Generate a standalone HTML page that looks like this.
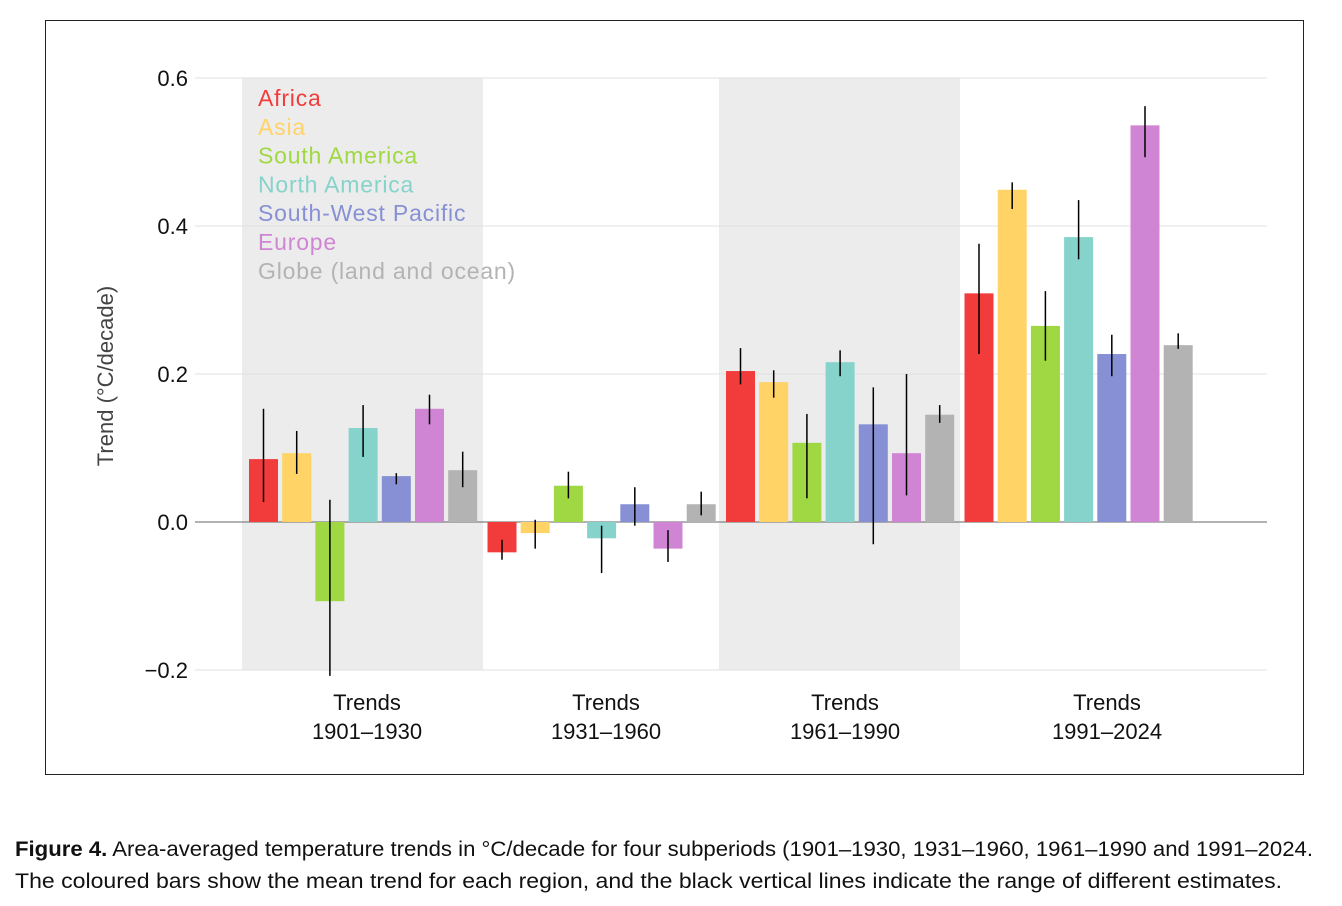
<!DOCTYPE html>
<html><head><meta charset="utf-8"><style>
body{margin:0;background:#fff;}
svg{display:block;font-family:"Liberation Sans",sans-serif;}
</style></head><body>
<svg id="chart" width="1342" height="906">
<rect x="45.5" y="20.5" width="1258" height="754" fill="none" stroke="#222" stroke-width="1"/>
<g id="bands"></g>
<g id="grid"></g>
<g id="bars"></g>
<g id="legend"></g>
<text x="113" y="376" transform="rotate(-90 113 376)" text-anchor="middle" font-size="22" fill="#444">Trend (°C/decade)</text>
<text x="15" y="856" font-size="21" fill="#111" font-family="'Liberation Sans Narrow','Liberation Sans',sans-serif" textLength="1298" lengthAdjust="spacingAndGlyphs"><tspan font-weight="bold">Figure 4.</tspan> Area-averaged temperature trends in °C/decade for four subperiods (1901–1930, 1931–1960, 1961–1990 and 1991–2024.</text>
<text x="15" y="888" font-size="21" fill="#111" font-family="'Liberation Sans Narrow','Liberation Sans',sans-serif" textLength="1267" lengthAdjust="spacingAndGlyphs">The coloured bars show the mean trend for each region, and the black vertical lines indicate the range of different estimates.</text>
</svg>
<script>
const periods=["1901–1930","1931–1960","1961–1990","1991–2024"];
const regions=["Africa","Asia","South America","North America","South-West Pacific","Europe","Globe (land and ocean)"];
const colors=["#f23c3c","#ffd366","#a0d843","#86d3cc","#8790d4","#d085d4","#b3b3b3"];
const yTicks=[-0.2,0,0.2,0.4,0.6];
const yTickLabels=["−0.2","0.0","0.2","0.4","0.6"];
const means=[
[0.085,0.093,-0.107,0.127,0.062,0.153,0.070],
[-0.041,-0.015,0.049,-0.022,0.024,-0.036,0.024],
[0.204,0.189,0.107,0.216,0.132,0.093,0.145],
[0.309,0.449,0.265,0.385,0.227,0.536,0.239]];
const highs=[
[0.153,0.123,0.030,0.158,0.066,0.172,0.095],
[-0.024,0.003,0.068,-0.005,0.047,-0.011,0.041],
[0.235,0.205,0.146,0.232,0.182,0.200,0.158],
[0.376,0.459,0.312,0.435,0.253,0.562,0.255]];
const lows=[
[0.027,0.065,-0.208,0.088,0.051,0.132,0.047],
[-0.051,-0.036,0.032,-0.069,-0.005,-0.054,0.009],
[0.186,0.168,0.032,0.197,-0.030,0.036,0.134],
[0.227,0.423,0.218,0.355,0.197,0.493,0.234]];
const NS="http://www.w3.org/2000/svg";
const y=v=>522-(v*740);
const groupX=i=>242+i*238.5;
const barX=(g,r)=>groupX(g)+7+r*33.2;
const labelX=i=>i===3?1107:367+i*239;
function mk(tag,attrs,parent,txt){const e=document.createElementNS(NS,tag);for(const k in attrs)e.setAttribute(k,attrs[k]);if(txt!==undefined)e.textContent=txt;parent.appendChild(e);return e;}
const bands=document.getElementById('bands'),grid=document.getElementById('grid'),bars=document.getElementById('bars'),legend=document.getElementById('legend');
periods.forEach((p,i)=>{
 if(i%2===0){const b=mk('rect',{x:groupX(i),y:y(0.6),width:241,height:y(-0.2)-y(0.6),fill:'#ececec'},bands);
 
 }
 const t=mk('text',{x:labelX(i),y:710,'text-anchor':'middle','font-size':22,fill:'#111'},grid);
 
 
 mk('tspan',{x:labelX(i),dy:0},t,'Trends');
 mk('tspan',{x:labelX(i),dy:29},t,p);
});
yTicks.forEach((v,i)=>{
 const l=mk('line',{x1:195,x2:1267,y1:y(v),y2:y(v),stroke:v===0?'#666':'#e0e0e0','stroke-width':1},grid);
 
 
 const t=mk('text',{x:188,y:y(v)+8,'text-anchor':'end','font-size':22,fill:'#111'},grid,yTickLabels[i]);
 
 
});
means.forEach((row,g)=>row.forEach((v,r)=>{
 const x=barX(g,r);
 const b=mk('rect',{x:x,y:Math.min(y(v),y(0)),width:29,height:Math.abs(y(v)-y(0)),fill:colors[r]},bars);
 
 
 const e=mk('line',{x1:x+14.5,x2:x+14.5,y1:y(highs[g][r]),y2:y(lows[g][r]),stroke:'#000','stroke-width':1.5},bars);
 
 
}));
regions.forEach((n,i)=>{
 const t=mk('text',{x:258,y:106+i*28.8,'font-size':23,'letter-spacing':0.8,fill:colors[i]},legend,n);
 
 
});
</script>
</body></html>
